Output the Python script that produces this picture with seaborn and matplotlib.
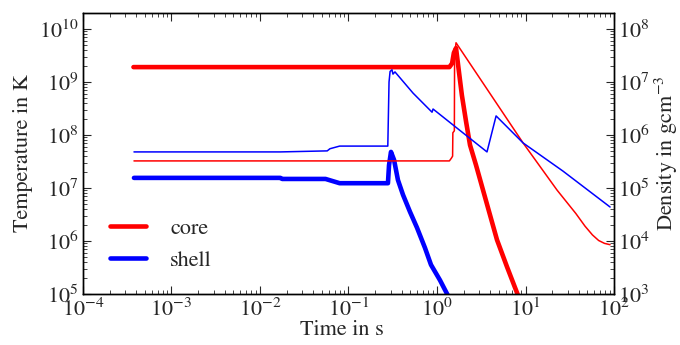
import numpy as np
import pandas as pd
import matplotlib
matplotlib.use("Agg")
import matplotlib.pyplot as plt
import seaborn as sns

# ---- data ----
core_T_time = [3.72e-4, 1.38, 1.48, 1.55, 1.64, 1.77, 1.91, 2.13, 2.36, 2.76, 3.31, 3.97, 4.76, 6.18, 8.02, 8.67]
core_T = [1.91e9, 1.91e9, 2.24e9, 3.55e9, 4.37e9, 1.55e9, 5.62e8, 1.78e8, 6.46e7, 2.69e7, 9.12e6, 3.09e6, 1.05e6, 3.24e5, 1.05e5, 7.41e4]

shell_T_time = [3.77e-4, 0.0170, 0.0178, 0.0550, 0.0794, 0.279, 0.287, 0.302, 0.327, 0.362, 0.413, 0.495, 0.594, 0.731, 0.855, 1.08, 1.30, 1.40]
shell_T = [1.55e7, 1.55e7, 1.48e7, 1.48e7, 1.23e7, 1.23e7, 2.69e7, 4.79e7, 3.39e7, 1.41e7, 7.41e6, 3.55e6, 1.78e6, 7.41e5, 3.55e5, 1.82e5, 1.0e5, 7.76e4]

core_rho_time = [3.77e-4, 1.38, 1.45, 1.50, 1.51, 1.57, 1.58, 1.64, 9.38, 22.7, 37.0, 47.0, 57.0, 67.0, 78.0, 90.2]
core_rho = [3.24e5, 3.24e5, 3.63e5, 3.98e5, 1.10e6, 1.20e6, 3.16e7, 5.50e7, 7.08e5, 9.12e4, 3.3e4, 1.9e4, 1.3e4, 1.02e4, 9.0e3, 8.5e3]

shell_rho_time = [3.77e-4, 0.0170, 0.0575, 0.0617, 0.0794, 0.278, 0.287, 0.295, 0.310, 0.318, 0.335, 0.536, 0.879, 0.902, 1.68, 3.67, 4.65, 9.38, 26.5, 90.2]
shell_rho = [4.79e5, 4.79e5, 5.01e5, 5.50e5, 6.17e5, 6.17e5, 1.0e7, 1.58e7, 1.70e7, 1.41e7, 1.55e7, 6.17e6, 2.69e6, 3.09e6, 1.35e6, 4.79e5, 2.29e6, 7.08e5, 2.08e5, 4.37e4]

series_labels = ["core", "shell"]
x_label = "Time in s"
y_label_left = "Temperature in K"
y_label_right = r"Density in gcm$^{-3}$"

# ---- style ----
sns.set_style("ticks")
plt.rcParams["font.family"] = ["STIXGeneral", "Liberation Serif", "DejaVu Serif"]
plt.rcParams["mathtext.fontset"] = "stix"
plt.rcParams["font.size"] = 16
FS = 16

fig = plt.figure(figsize=(6.8, 3.45), dpi=100)
ax = fig.add_axes([0.122, 0.148, 0.781, 0.814])
ax2 = ax.twinx()

RED = "#ff0000"
BLUE = "#0000ff"

df_core_T = pd.DataFrame({"t": core_T_time, "v": core_T})
df_shell_T = pd.DataFrame({"t": shell_T_time, "v": shell_T})
df_core_rho = pd.DataFrame({"t": core_rho_time, "v": core_rho})
df_shell_rho = pd.DataFrame({"t": shell_rho_time, "v": shell_rho})

sns.lineplot(data=df_core_T, x="t", y="v", ax=ax, color=RED, linewidth=3.3,
             estimator=None, sort=False, label=series_labels[0])
sns.lineplot(data=df_shell_T, x="t", y="v", ax=ax, color=BLUE, linewidth=3.3,
             estimator=None, sort=False, label=series_labels[1])
sns.lineplot(data=df_core_rho, x="t", y="v", ax=ax2, color=RED, linewidth=1.1,
             estimator=None, sort=False)
sns.lineplot(data=df_shell_rho, x="t", y="v", ax=ax2, color=BLUE, linewidth=1.1,
             estimator=None, sort=False)

for a in (ax, ax2):
    a.set_xscale("log")
    a.set_yscale("log")
ax.set_xlim(1e-4, 1e2)
ax.set_ylim(1e5, 10 ** 10.30)
ax2.set_ylim(1e3, 10 ** 8.30)

ax.set_xlabel(x_label, fontsize=FS, labelpad=0)
ax.xaxis.set_label_coords(0.487, -0.095)
ax.set_ylabel(y_label_left, fontsize=FS, labelpad=4)
ax2.set_ylabel(y_label_right, fontsize=FS, labelpad=2)

ax.tick_params(which="both", direction="in", top=True, right=False, labelsize=FS)
ax.tick_params(which="major", length=6, width=0.8, pad=3)
ax.tick_params(which="minor", length=3, width=0.6)
ax2.tick_params(which="both", direction="in", right=True, labelsize=FS)
ax2.tick_params(which="major", length=6, width=0.8, pad=3)
ax2.tick_params(which="minor", length=3, width=0.6)
ax.xaxis.set_major_locator(matplotlib.ticker.LogLocator(base=10, numticks=10))
ax.xaxis.set_minor_locator(matplotlib.ticker.LogLocator(base=10, subs=np.arange(2, 10), numticks=20))
for a in (ax, ax2):
    for s in a.spines.values():
        s.set_linewidth(1.0)
        s.set_color("black")

ax.legend(loc="upper left", bbox_to_anchor=(0.051, 0.268), frameon=False,
          fontsize=FS, handlelength=1.6, handletextpad=1.1, labelspacing=0.5,
          borderpad=0, borderaxespad=0)

fig.savefig("out.png", dpi=100)
